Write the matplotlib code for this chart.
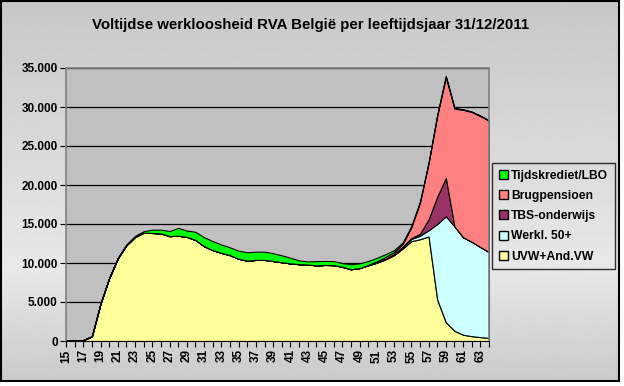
import matplotlib
matplotlib.use("Agg")
import matplotlib.pyplot as plt
import numpy as np
from matplotlib.patches import Patch, Rectangle
from matplotlib.ticker import FuncFormatter

ages = list(range(15, 65))

# UVW+And.VW (bottom layer)
uvw = [50, 60, 120, 600, 4800, 8050, 10600, 12300, 13350, 13900,
       13850, 13800, 13450, 13500, 13350, 12950, 12150, 11650, 11300, 11000,
       10550, 10300, 10400, 10400, 10250, 10100, 9950, 9850, 9800, 9700,
       9750, 9730, 9520, 9200, 9350, 9700, 10030, 10450, 11000, 11850,
       12800, 13050, 13400, 5300, 2400, 1300, 800, 620, 500, 400]
werkl_50 = [0] * 35 + [20, 40, 80, 120, 180, 280, 450, 800, 9700, 13600,
                       13400, 12500, 12100, 11550, 11000]
tbs_onderwijs = [0] * 37 + [10, 30, 60, 120, 250, 1400, 3500, 4900,
                            0, 0, 0, 0, 0]
brugpensioen = [0] * 35 + [30, 140, 240, 250, 350, 1400, 4000, 7200, 10400, 12950,
                           15100, 16350, 16650, 16800, 16850]
tijdskrediet = [0, 0, 0, 10, 20, 40, 60, 90, 130, 180,
                420, 470, 650, 1000, 800, 1050, 1150, 1150, 1060, 1000,
                1020, 1080, 1050, 1050, 1000, 880, 720, 480, 400, 540,
                510, 510, 470, 640, 600, 500, 450, 350, 250, 200,
                150, 120, 100, 100, 150, 80, 60, 50, 40, 30]

series_labels = ["UVW+And.VW", "Werkl. 50+", "TBS-onderwijs", "Brugpensioen", "Tijdskrediet/LBO"]
series_colors = ["#FFFF99", "#CCFFFF", "#993366", "#FF8080", "#00FF00"]

plt.rcParams["font.family"] = ["Liberation Sans", "DejaVu Sans"]

W, H = 624, 386
fig = plt.figure(figsize=(W / 100, H / 100), dpi=100)
fig.patch.set_facecolor("white")

# chart area: grey vertical gradient inside a black frame
bg = fig.add_axes([0, 0, 1, 1], zorder=-10)
bg.set_xlim(0, W)
bg.set_ylim(H, 0)
bg.axis("off")
shade = np.concatenate([np.linspace(0.78, 0.91, 270), np.linspace(0.91, 0.79, 112)])
bg.imshow(shade[:, None], cmap="gray", vmin=0, vmax=1, aspect="auto",
          extent=(1, 619, 381, 1), interpolation="bilinear")
bg.add_patch(Rectangle((1, 1), 618, 380, fill=False, edgecolor="black", linewidth=1.5))

ax = fig.add_axes([66 / W, (H - 341) / H, 423 / W, 273 / H])
ax.set_facecolor("#C0C0C0")
ax.stackplot(ages, uvw, werkl_50, tbs_onderwijs, brugpensioen, tijdskrediet,
             colors=series_colors, labels=series_labels,
             edgecolor="black", linewidth=0.8)

ax.set_xlim(15, 64)
ax.set_ylim(0, 35000)
ax.set_yticks(range(0, 35001, 5000))
ax.yaxis.set_major_formatter(FuncFormatter(lambda v, _: f"{v:,.0f}".replace(",", ".")))
ax.yaxis.grid(True, color="black", linewidth=0.9)
ax.set_axisbelow(True)

ax.set_xticks(ages)
ax.set_xticklabels([str(a) if (a - 15) % 2 == 0 else "" for a in ages], rotation=90)
ax.tick_params(axis="both", direction="out", length=4, width=0.8, pad=2)
for lab in ax.get_xticklabels() + ax.get_yticklabels():
    lab.set_fontweight("bold")
    lab.set_fontsize(8.5)

for side in ["top", "right", "left"]:
    ax.spines[side].set_color("#808080")
    ax.spines[side].set_linewidth(1.2)
ax.spines["bottom"].set_color("black")

fig.text(311 / W, 1 - 25 / H, "Voltijdse werkloosheid RVA België per leeftijdsjaar 31/12/2011",
         ha="center", va="center", fontsize=10.8, fontweight="bold")

handles = [Patch(facecolor=c, edgecolor="black", label=l)
           for c, l in zip(series_colors[::-1], series_labels[::-1])]
leg = fig.legend(handles=handles, loc="upper left", bbox_to_anchor=(492 / W, 1 - 163 / H),
                 borderaxespad=0, frameon=True, fancybox=False, edgecolor="black", facecolor="none",
                 prop={"weight": "bold", "size": 8.7}, handlelength=0.75, handleheight=0.75,
                 handletextpad=0.3, labelspacing=0.68, borderpad=0.55)
leg.get_frame().set_linewidth(1.0)

fig.savefig("out.png", dpi=100)
